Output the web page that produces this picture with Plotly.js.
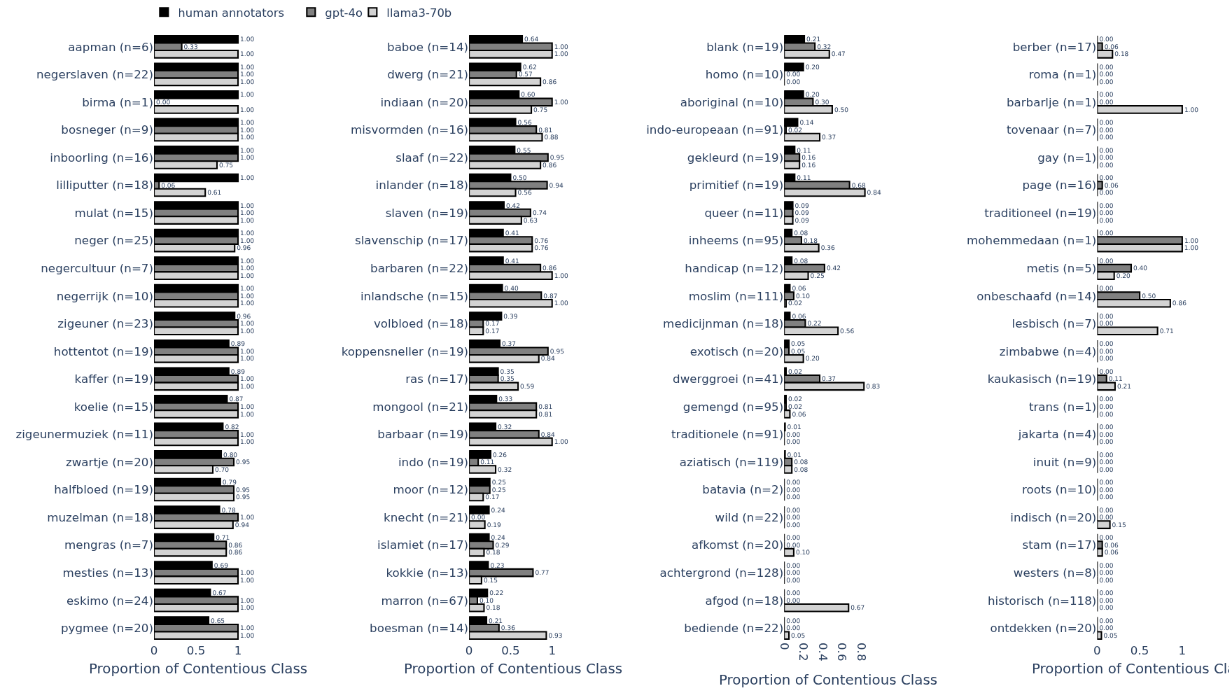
<!DOCTYPE html>
<html>
<head>
<meta charset="utf-8">
<script src="https://cdn.plot.ly/plotly-3.0.1.min.js"></script>
<style>
html,body{margin:0;padding:0;background:#fff;overflow:hidden;width:1229px;height:691px;}
#wrap{width:1229px;height:691px;overflow:hidden;position:relative;background:#fff;}
#chart{position:absolute;left:0;top:0;transform-origin:0 0;will-change:transform;}
</style>
</head>
<body>
<div id="wrap"><div id="chart"></div></div>
<script>
// ---- Data ----
const seriesNames = ['human annotators', 'gpt-4o', 'llama3-70b'];
const axisTitle = 'Proportion of Contentious Class';

const cats1 = ['aapman (n=6)','negerslaven (n=22)','birma (n=1)','bosneger (n=9)','inboorling (n=16)','lilliputter (n=18)','mulat (n=15)','neger (n=25)','negercultuur (n=7)','negerrijk (n=10)','zigeuner (n=23)','hottentot (n=19)','kaffer (n=19)','koelie (n=15)','zigeunermuziek (n=11)','zwartje (n=20)','halfbloed (n=19)','muzelman (n=18)','mengras (n=7)','mesties (n=13)','eskimo (n=24)','pygmee (n=20)'];
const human1 = [1.00,1.00,1.00,1.00,1.00,1.00,1.00,1.00,1.00,1.00,0.96,0.89,0.89,0.87,0.82,0.80,0.79,0.78,0.71,0.69,0.67,0.65];
const gpt1   = [0.33,1.00,0.00,1.00,1.00,0.06,1.00,1.00,1.00,1.00,1.00,1.00,1.00,1.00,1.00,0.95,0.95,1.00,0.86,1.00,1.00,1.00];
const llama1 = [1.00,1.00,1.00,1.00,0.75,0.61,1.00,0.96,1.00,1.00,1.00,1.00,1.00,1.00,1.00,0.70,0.95,0.94,0.86,1.00,1.00,1.00];

const cats2 = ['baboe (n=14)','dwerg (n=21)','indiaan (n=20)','misvormden (n=16)','slaaf (n=22)','inlander (n=18)','slaven (n=19)','slavenschip (n=17)','barbaren (n=22)','inlandsche (n=15)','volbloed (n=18)','koppensneller (n=19)','ras (n=17)','mongool (n=21)','barbaar (n=19)','indo (n=19)','moor (n=12)','knecht (n=21)','islamiet (n=17)','kokkie (n=13)','marron (n=67)','boesman (n=14)'];
const human2 = [0.64,0.62,0.60,0.56,0.55,0.50,0.42,0.41,0.41,0.40,0.39,0.37,0.35,0.33,0.32,0.26,0.25,0.24,0.24,0.23,0.22,0.21];
const gpt2   = [1.00,0.57,1.00,0.81,0.95,0.94,0.74,0.76,0.86,0.87,0.17,0.95,0.35,0.81,0.84,0.11,0.25,0.00,0.29,0.77,0.10,0.36];
const llama2 = [1.00,0.86,0.75,0.88,0.86,0.56,0.63,0.76,1.00,1.00,0.17,0.84,0.59,0.81,1.00,0.32,0.17,0.19,0.18,0.15,0.18,0.93];

const cats3 = ['blank (n=19)','homo (n=10)','aboriginal (n=10)','indo-europeaan (n=91)','gekleurd (n=19)','primitief (n=19)','queer (n=11)','inheems (n=95)','handicap (n=12)','moslim (n=111)','medicijnman (n=18)','exotisch (n=20)','dwerggroei (n=41)','gemengd (n=95)','traditionele (n=91)','aziatisch (n=119)','batavia (n=2)','wild (n=22)','afkomst (n=20)','achtergrond (n=128)','afgod (n=18)','bediende (n=22)'];
const human3 = [0.21,0.20,0.20,0.14,0.11,0.11,0.09,0.08,0.08,0.06,0.06,0.05,0.02,0.02,0.01,0.01,0.00,0.00,0.00,0.00,0.00,0.00];
const gpt3   = [0.32,0.00,0.30,0.02,0.16,0.68,0.09,0.18,0.42,0.10,0.22,0.05,0.37,0.02,0.00,0.08,0.00,0.00,0.00,0.00,0.00,0.00];
const llama3 = [0.47,0.00,0.50,0.37,0.16,0.84,0.09,0.36,0.25,0.02,0.56,0.20,0.83,0.06,0.00,0.08,0.00,0.00,0.10,0.00,0.67,0.05];

const cats4 = ['berber (n=17)','roma (n=1)','barbarlje (n=1)','tovenaar (n=7)','gay (n=1)','page (n=16)','traditioneel (n=19)','mohemmedaan (n=1)','metis (n=5)','onbeschaafd (n=14)','lesbisch (n=7)','zimbabwe (n=4)','kaukasisch (n=19)','trans (n=1)','jakarta (n=4)','inuit (n=9)','roots (n=10)','indisch (n=20)','stam (n=17)','westers (n=8)','historisch (n=118)','ontdekken (n=20)'];
const human4 = [0.00,0.00,0.00,0.00,0.00,0.00,0.00,0.00,0.00,0.00,0.00,0.00,0.00,0.00,0.00,0.00,0.00,0.00,0.00,0.00,0.00,0.00];
const gpt4   = [0.06,0.00,0.00,0.00,0.00,0.06,0.00,1.00,0.40,0.50,0.00,0.00,0.11,0.00,0.00,0.00,0.00,0.00,0.06,0.00,0.00,0.00];
const llama4 = [0.18,0.00,1.00,0.00,0.00,0.00,0.00,1.00,0.20,0.86,0.71,0.00,0.21,0.00,0.00,0.00,0.00,0.15,0.06,0.00,0.00,0.05];

// ---- Build ----
const S = 0.7;                       // render scale (figure drawn larger, then scaled down)
const W = 1229, H = 691;
const W0 = W / S, H0 = H / S;
const FONT = 'DejaVu Sans, Verdana, sans-serif';
const TXT = '#2a3f5f';
const fills = ['#000000', '#808080', '#d3d3d3'];
const legendWidths = [165, 43, null];
const panels = [
  {cats: cats1, vals: [human1, gpt1, llama1]},
  {cats: cats2, vals: [human2, gpt2, llama2]},
  {cats: cats3, vals: [human3, gpt3, llama3]},
  {cats: cats4, vals: [human4, gpt4, llama4]}
];
const domainsPx = [[154, 242], [469, 557], [784, 872], [1097, 1185]];
const ranges = [[0, 1.048], [0, 1.06], [0, 0.915], [0, 1.035]];
const dticks = [0.5, 0.5, 0.2, 0.5];
const titleDrop = [27, 27, 38, 27];   // px below plot bottom (final scale)

const tickFont = {family: FONT, size: 11.7 / S, color: TXT};
const traces = [];
const annotations = [];
const layout = {
  width: W0, height: H0,
  margin: {l: 0, r: 0, t: 31 / S, b: 49 / S, pad: 0},
  paper_bgcolor: '#ffffff', plot_bgcolor: '#ffffff',
  font: {family: FONT, size: 12 / S, color: TXT},
  barmode: 'group', bargap: 0.2,
  showlegend: true,
  legend: {orientation: 'h', x: 150 / W, xanchor: 'left', y: 1.014, yanchor: 'bottom',
           font: {family: FONT, size: 11.5 / S, color: TXT}, bgcolor: 'rgba(0,0,0,0)'},
  annotations: annotations
};

panels.forEach((p, i) => {
  const sfx = i === 0 ? '' : String(i + 1);
  p.vals.forEach((v, s) => {
    const t = {
      type: 'bar', orientation: 'h',
      x: v, y: p.cats,
      name: seriesNames[s], legendgroup: seriesNames[s], showlegend: i === 0,
      xaxis: 'x' + sfx, yaxis: 'y' + sfx,
      marker: {color: fills[s], line: {color: '#000000', width: 2.1}},
      texttemplate: '%{x:.2f}', textposition: 'outside',
      textfont: {family: FONT, size: 12 / S, color: TXT},
      cliponaxis: false, hoverinfo: 'x+y'
    };
    if (legendWidths[s]) t.legendwidth = legendWidths[s];
    traces.push(t);
  });
  const dom = [domainsPx[i][0] / W, domainsPx[i][1] / W];
  layout['xaxis' + sfx] = {
    domain: dom, anchor: 'y' + sfx, range: ranges[i],
    dtick: dticks[i], tick0: 0, showgrid: false, zeroline: false, showline: false,
    tickangle: i === 2 ? 90 : 0,
    tickfont: tickFont
  };
  layout['yaxis' + sfx] = {
    domain: [0, 1], anchor: 'x' + sfx, autorange: 'reversed', type: 'category',
    showgrid: false, zeroline: false, showline: false,
    tickfont: tickFont
  };
  annotations.push({
    text: axisTitle, xref: 'paper', yref: 'paper',
    x: (dom[0] + dom[1]) / 2, y: 0, xanchor: 'center', yanchor: 'middle',
    yshift: -titleDrop[i] / S, showarrow: false,
    font: {family: FONT, size: 13.9 / S, color: TXT}
  });
});

const el = document.getElementById('chart');
el.style.width = W0 + 'px';
el.style.height = H0 + 'px';
el.style.transform = 'scale(' + S + ')';
Plotly.newPlot(el, traces, layout, {displayModeBar: false, responsive: false});
</script>
</body>
</html>
